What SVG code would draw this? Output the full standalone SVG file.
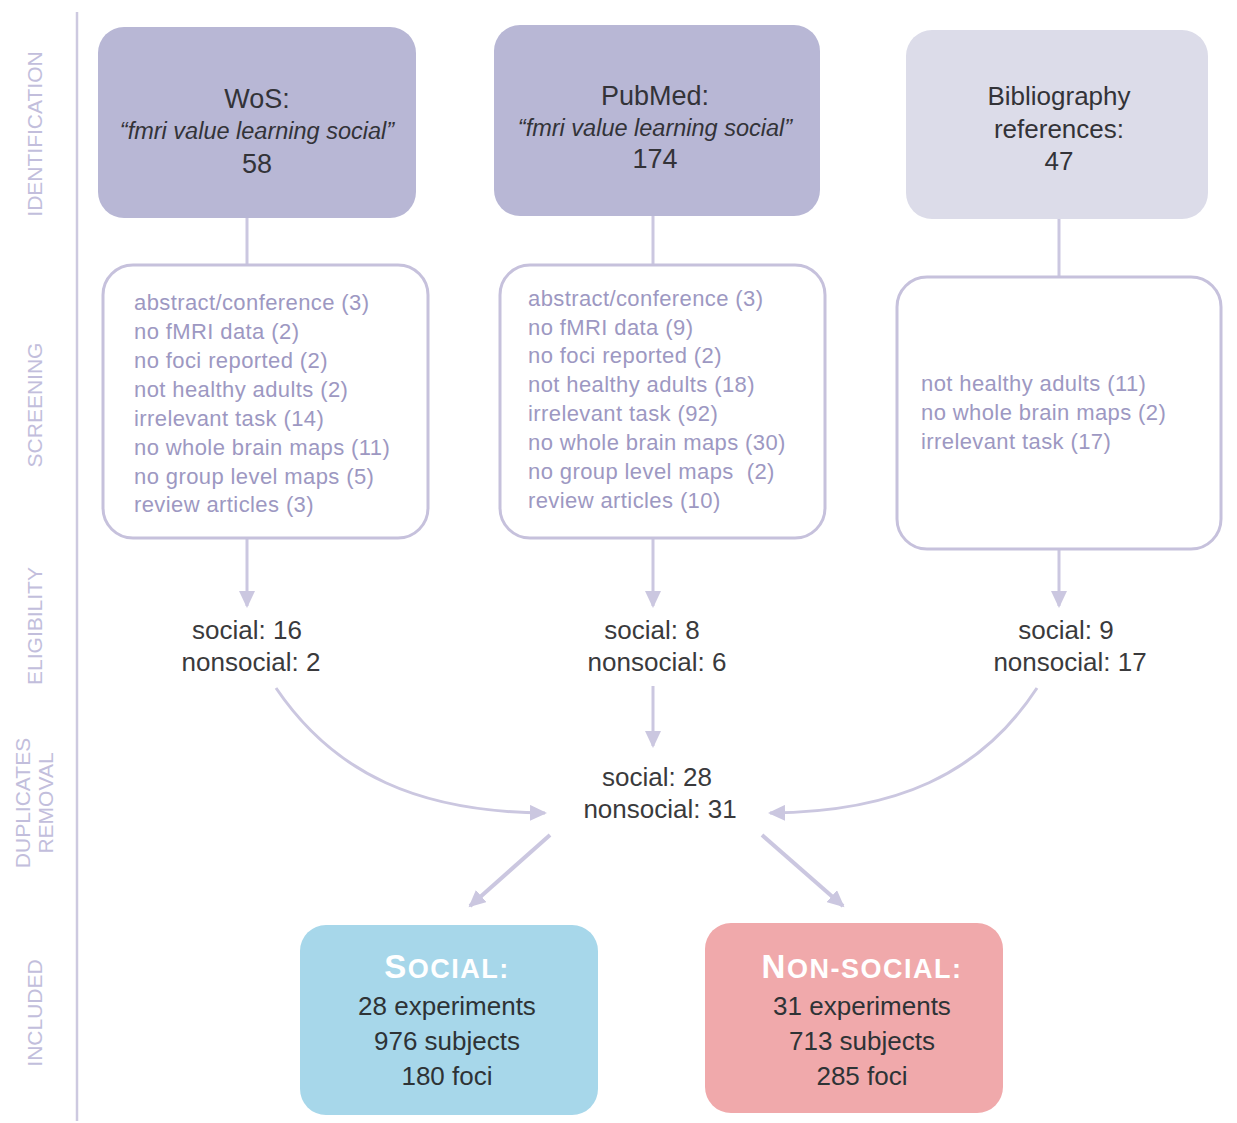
<svg xmlns="http://www.w3.org/2000/svg" width="1237" height="1123" viewBox="0 0 1237 1123">
<style>
  text { font-family: "Liberation Sans", Arial, sans-serif; }
  .side { font-size: 21px; fill: #c2bedc; text-anchor: middle; }
  .title { font-size: 27px; fill: #333338; text-anchor: middle; }
  .ital { font-size: 23.5px; font-style: italic; fill: #333338; text-anchor: middle; }
  .scr { font-size: 22px; letter-spacing: 0.4px; fill: #9d98c2; }
  .cnt { font-size: 26px; fill: #3a3a3c; text-anchor: middle; }
  .inc { font-size: 26px; fill: #2e3336; text-anchor: middle; }
  .head { font-weight: bold; fill: #ffffff; text-anchor: middle; letter-spacing: 1.5px; }
  .src { fill: #b8b7d5; }
  .bib { fill: #dcdce9; }
  .scrbox { fill: #ffffff; stroke: #c6c1dc; stroke-width: 3; }
  .conn { fill: none; stroke: #cbc7e0; stroke-width: 3; }
  .thick { fill: none; stroke: #cbc7e0; stroke-width: 4; }
</style>
<defs>
  <marker id="arr" markerUnits="userSpaceOnUse" markerWidth="18" markerHeight="16" refX="15" refY="8" orient="auto">
    <path d="M0,0 L17,8 L0,16 z" fill="#cbc7e0"/>
  </marker>
</defs>
<rect width="1237" height="1123" fill="#ffffff"/>

<g id="phase-labels">
  <line x1="77" y1="12" x2="77" y2="1121" stroke="#cdc9e0" stroke-width="2.5"/>
  <text class="side" transform="translate(42,134) rotate(-90)">IDENTIFICATION</text>
  <text class="side" transform="translate(42,405) rotate(-90)">SCREENING</text>
  <text class="side" transform="translate(42,626) rotate(-90)">ELIGIBILITY</text>
  <text class="side" transform="translate(30,803) rotate(-90)">DUPLICATES</text>
  <text class="side" transform="translate(53,803) rotate(-90)">REMOVAL</text>
  <text class="side" transform="translate(42,1013) rotate(-90)">INCLUDED</text>
</g>

<g id="connectors">
  <line class="conn" x1="247" y1="218" x2="247" y2="265"/>
  <line class="conn" x1="653" y1="216" x2="653" y2="265"/>
  <line class="conn" x1="1059" y1="219" x2="1059" y2="277"/>
  <line class="conn" x1="247" y1="538" x2="247" y2="606" marker-end="url(#arr)"/>
  <line class="conn" x1="653" y1="538" x2="653" y2="606" marker-end="url(#arr)"/>
  <line class="conn" x1="1059" y1="549" x2="1059" y2="606" marker-end="url(#arr)"/>
  <line class="conn" x1="653" y1="686" x2="653" y2="746" marker-end="url(#arr)"/>
  <path class="conn" d="M276,688 C335,775 420,812 545,813" marker-end="url(#arr)"/>
  <path class="conn" d="M1037,688 C980,775 895,812 770,813" marker-end="url(#arr)"/>
  <line class="thick" x1="550" y1="835" x2="470" y2="906" marker-end="url(#arr)"/>
  <line class="thick" x1="762" y1="835" x2="843" y2="906" marker-end="url(#arr)"/>
</g>

<g id="wos">
  <rect class="src" x="98" y="27" width="318" height="191" rx="26"/>
  <text class="title" x="257" y="108">WoS:</text>
  <text class="ital" x="257" y="139">“fmri value learning social”</text>
  <text class="title" x="257" y="173">58</text>
</g>
<g id="pubmed">
  <rect class="src" x="494" y="25" width="326" height="191" rx="26"/>
  <text class="title" x="655" y="105">PubMed:</text>
  <text class="ital" x="655" y="136">“fmri value learning social”</text>
  <text class="title" x="655" y="168">174</text>
</g>
<g id="bibliography">
  <rect class="bib" x="906" y="30" width="302" height="189" rx="26"/>
  <text class="title" x="1059" y="105" style="font-size:26px">Bibliography</text>
  <text class="title" x="1059" y="138" style="font-size:26px">references:</text>
  <text class="title" x="1059" y="170" style="font-size:26px">47</text>
</g>

<g id="wos-screening">
  <rect class="scrbox" x="103" y="265" width="325" height="273" rx="30"/>
  <text class="scr" x="134" y="310">abstract/conference (3)</text>
  <text class="scr" x="134" y="339">no fMRI data (2)</text>
  <text class="scr" x="134" y="368">no foci reported (2)</text>
  <text class="scr" x="134" y="397">not healthy adults (2)</text>
  <text class="scr" x="134" y="426">irrelevant task (14)</text>
  <text class="scr" x="134" y="455">no whole brain maps (11)</text>
  <text class="scr" x="134" y="484">no group level maps (5)</text>
  <text class="scr" x="134" y="512">review articles (3)</text>
</g>
<g id="pubmed-screening">
  <rect class="scrbox" x="500" y="265" width="325" height="273" rx="30"/>
  <text class="scr" x="528" y="306">abstract/conference (3)</text>
  <text class="scr" x="528" y="335">no fMRI data (9)</text>
  <text class="scr" x="528" y="363">no foci reported (2)</text>
  <text class="scr" x="528" y="392">not healthy adults (18)</text>
  <text class="scr" x="528" y="421">irrelevant task (92)</text>
  <text class="scr" x="528" y="450">no whole brain maps (30)</text>
  <text class="scr" x="528" y="479" xml:space="preserve">no group level maps  (2)</text>
  <text class="scr" x="528" y="508">review articles (10)</text>
</g>
<g id="bib-screening">
  <rect class="scrbox" x="897" y="277" width="324" height="272" rx="30"/>
  <text class="scr" x="921" y="391">not healthy adults (11)</text>
  <text class="scr" x="921" y="420">no whole brain maps (2)</text>
  <text class="scr" x="921" y="449">irrelevant task (17)</text>
</g>

<g id="wos-eligible">
  <text class="cnt" x="247" y="639">social: 16</text>
  <text class="cnt" x="251" y="671">nonsocial: 2</text>
</g>
<g id="pubmed-eligible">
  <text class="cnt" x="652" y="639">social: 8</text>
  <text class="cnt" x="657" y="671">nonsocial: 6</text>
</g>
<g id="bib-eligible">
  <text class="cnt" x="1066" y="639">social: 9</text>
  <text class="cnt" x="1070" y="671">nonsocial: 17</text>
</g>
<g id="deduplicated">
  <text class="cnt" x="657" y="786">social: 28</text>
  <text class="cnt" x="660" y="818">nonsocial: 31</text>
</g>

<g id="social">
  <rect x="300" y="925" width="298" height="190" rx="26" fill="#a7d7ea"/>
  <text class="head" x="447" y="978"><tspan style="font-size:33px">S</tspan><tspan style="font-size:27px">OCIAL:</tspan></text>
  <text class="inc" x="447" y="1015">28 experiments</text>
  <text class="inc" x="447" y="1050">976 subjects</text>
  <text class="inc" x="447" y="1085">180 foci</text>
</g>
<g id="non-social">
  <rect x="705" y="923" width="298" height="190" rx="26" fill="#f0a9ab"/>
  <text class="head" x="862" y="978"><tspan style="font-size:33px">N</tspan><tspan style="font-size:27px">ON-SOCIAL:</tspan></text>
  <text class="inc" x="862" y="1015">31 experiments</text>
  <text class="inc" x="862" y="1050">713 subjects</text>
  <text class="inc" x="862" y="1085">285 foci</text>
</g>
</svg>
